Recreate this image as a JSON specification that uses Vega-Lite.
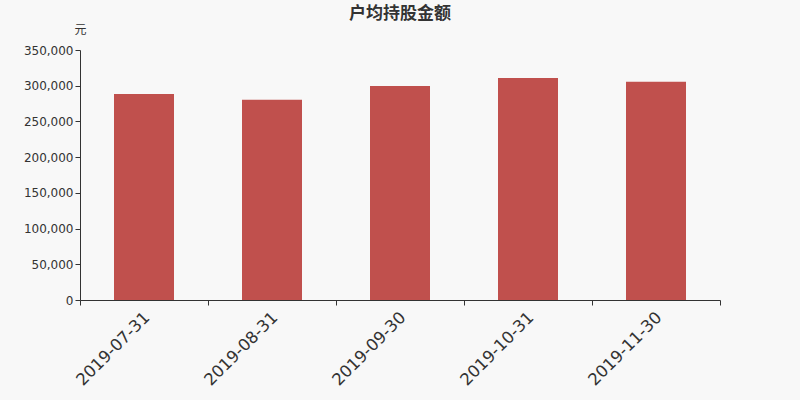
{
  "$schema": "https://vega.github.io/schema/vega-lite/v6.json",
  "width": 640,
  "height": 250,
  "autosize": {"type": "none"},
  "padding": {"left": 80, "top": 50, "right": 80, "bottom": 100},
  "background": "#f8f8f8",
  "title": {
    "text": "户均持股金额",
    "fontSize": 17,
    "font": "Noto Sans CJK SC",
    "fontWeight": "bold",
    "color": "#333333",
    "offset": 0
  },
  "data": {
    "values": [
      {"date": "2019-07-31", "amount": 288300},
      {"date": "2019-08-31", "amount": 280300},
      {"date": "2019-09-30", "amount": 299600},
      {"date": "2019-10-31", "amount": 310800},
      {"date": "2019-11-30", "amount": 305600}
    ]
  },
  "mark": {"type": "bar", "color": "#c0504d", "size": 60},
  "encoding": {
    "x": {
      "field": "date",
      "type": "nominal",
      "sort": null,
      "scale": {"paddingInner": 0, "paddingOuter": 0},
      "axis": {
        "title": null,
        "tickBand": "extent",
        "labelAngle": -45,
        "labelFontSize": 16.5,
        "labelColor": "#333333",
        "labelPadding": 4,
        "labelOffset": -3,
        "tickSize": 5,
        "tickColor": "#333333",
        "domainColor": "#333333"
      }
    },
    "y": {
      "field": "amount",
      "type": "quantitative",
      "scale": {"domain": [0, 350000]},
      "axis": {
        "title": "元",
        "titleAngle": 0,
        "titleX": 0,
        "titleY": -14,
        "titleAlign": "center",
        "titleFontWeight": "normal",
        "titleFontSize": 12,
        "titleFont": "Noto Sans CJK SC",
        "titleColor": "#333333",
        "format": ",.0f",
        "values": [0, 50000, 100000, 150000, 200000, 250000, 300000, 350000],
        "grid": false,
        "labelFontSize": 12,
        "labelColor": "#333333",
        "tickSize": 5,
        "tickColor": "#333333",
        "domainColor": "#333333"
      }
    }
  },
  "config": {
    "view": {"stroke": null},
    "font": "DejaVu Sans"
  }
}
